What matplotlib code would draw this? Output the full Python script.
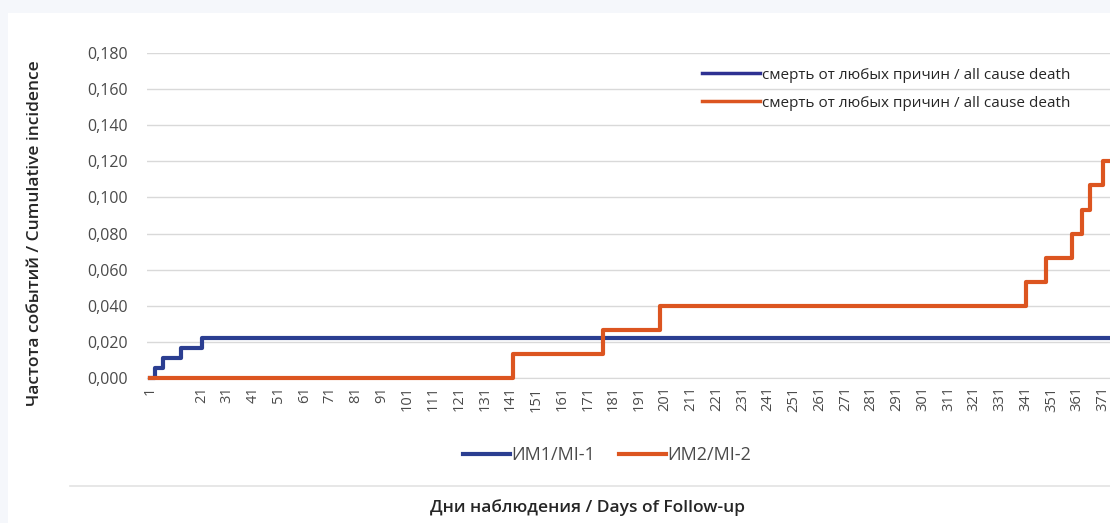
import matplotlib.pyplot as plt
from matplotlib.lines import Line2D
from matplotlib.ticker import FuncFormatter

# cumulative incidence, step data (day, value)
mi1_days = [1, 3, 6, 13, 21, 374]
mi1_vals = [0.0, 0.0055, 0.011, 0.0165, 0.022, 0.022]

mi2_days = [1, 142, 177, 199, 341, 349, 359, 363, 366, 371, 374]
mi2_vals = [0.0, 0.0133, 0.0267, 0.040, 0.0533, 0.0667, 0.080, 0.0933, 0.1067, 0.120, 0.120]

tick_days = [1] + list(range(21, 372, 10))
y_ticks = [0.0, 0.02, 0.04, 0.06, 0.08, 0.10, 0.12, 0.14, 0.16, 0.18]

blue = '#2B3E91'
orange = '#DC5520'
grey_txt = '#4A4A4A'

plt.rcParams['font.family'] = ['Open Sans', 'DejaVu Sans']

fig = plt.figure(figsize=(11.1, 5.23), dpi=100)
fig.patch.set_facecolor('#F5F7FB')
# white chart panel
panel = plt.Rectangle((8 / 1110, 0), 1, 1 - 13 / 523, transform=fig.transFigure,
                      facecolor='white', edgecolor='none', zorder=-10)
fig.patches.append(panel)

ax = fig.add_axes([147 / 1110, 1 - 378 / 523, 1 - 147 / 1110, (378 - 53) / 523])
ax.set_facecolor('none')

ax.plot(mi1_days, mi1_vals, drawstyle='steps-post', color=blue, lw=3, zorder=3, clip_on=False)
ax.plot(mi2_days, mi2_vals, drawstyle='steps-post', color=orange, lw=3, zorder=4, clip_on=False)

ax.set_xlim(-0.16, 373.7)
ax.set_ylim(0, 0.18)
ax.set_yticks(y_ticks)
ax.yaxis.set_major_formatter(FuncFormatter(lambda v, p: ('%.3f' % v).replace('.', ',')))
ax.set_xticks(tick_days)
ax.set_xticklabels([str(d) for d in tick_days], rotation=90)
ax.tick_params(axis='y', length=0, labelsize=11.5, colors=grey_txt, pad=14)
ax.tick_params(axis='x', length=0, labelsize=10.5, colors=grey_txt, pad=6)
ax.grid(axis='y', color='#D9D9D9', lw=1)
ax.set_axisbelow(True)
for s in ['top', 'right', 'left']:
    ax.spines[s].set_visible(False)
ax.spines['bottom'].set_color('#D9D9D9')

# upper legend (inside the plot)
top_handles = [Line2D([], [], color='#2E3192', lw=2.5), Line2D([], [], color=orange, lw=2.5)]
top_labels = ['смерть от любых причин / all cause death'] * 2
fig.legend(top_handles, top_labels, loc='upper left', bbox_to_anchor=(688 / 1110, 1 - 54 / 523),
           frameon=False, fontsize=11, handlelength=3.8, handletextpad=0.15, labelspacing=0.85,
           labelcolor='#262626')

# bottom legend
bot_handles = [Line2D([], [], color=blue, lw=3), Line2D([], [], color=orange, lw=3)]
fig.legend(bot_handles, ['ИМ1/MI-1', 'ИМ2/MI-2'], loc='center', bbox_to_anchor=(607 / 1110, 1 - 455 / 523),
           ncol=2, frameon=False, fontsize=13, handlelength=2.6, handletextpad=0.1, columnspacing=1.3,
           labelcolor=grey_txt)

# separator line
fig.add_artist(Line2D([70 / 1110, 1], [1 - 486 / 523] * 2, transform=fig.transFigure, color='#E3E3E3', lw=1.2))

fig.text(588 / 1110, 1 - 508 / 523, 'Дни наблюдения / Days of Follow-up', ha='center', va='center',
         fontsize=12.5, fontweight='semibold', color='#262626')
fig.text(35 / 1110, 1 - 233 / 523, 'Частота событий / Cumulative incidence', ha='center', va='center',
         rotation=90, fontsize=12.5, fontweight='semibold', color='#262626')

fig.savefig('out.png', dpi=100)
